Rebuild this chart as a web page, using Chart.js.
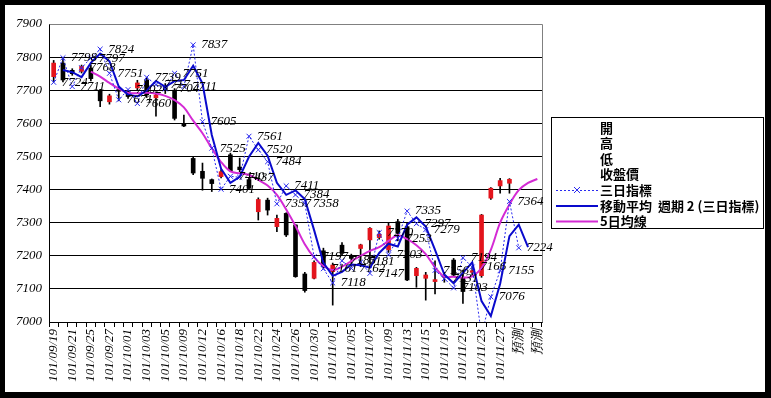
<!DOCTYPE html>
<html><head><meta charset="utf-8">
<script src="https://cdn.jsdelivr.net/npm/chart.js@4.4.0/dist/chart.umd.min.js"></script>
<style>html,body{margin:0;padding:0;background:#000;overflow:hidden}</style>
</head><body>
<canvas id="c" width="771" height="398"></canvas>
<script>
const categories = ['101/09/19','101/09/20','101/09/21','101/09/24','101/09/25','101/09/26','101/09/27','101/09/28',
 '101/10/01','101/10/02','101/10/03','101/10/04','101/10/05','101/10/08','101/10/09','101/10/11','101/10/12',
 '101/10/15','101/10/16','101/10/17','101/10/18','101/10/19','101/10/22','101/10/23','101/10/24','101/10/25',
 '101/10/26','101/10/29','101/10/30','101/10/31','101/11/01','101/11/02','101/11/05','101/11/06','101/11/07',
 '101/11/08','101/11/09','101/11/12','101/11/13','101/11/14','101/11/15','101/11/16','101/11/19','101/11/20',
 '101/11/21','101/11/22','101/11/23','101/11/26','101/11/27','101/11/28','預測','預測','預測'];

const opens  = [7741,7782,7760,7757,7767,7699,7665,7702,7696,7707,7731,7677,7712,7700,7598,7494,7455,7430,7439,7505,
 7468,7430,7333,7368,7288,7328,7293,7145,7132,7215,7152,7232,7200,7222,7248,7255,7218,7303,7288,7140,
 7132,7122,7135,7187,7132,7150,7140,7374,7411,7419,null,null,null];
const highs  = [7790,7796,7765,7776,7775,7703,7688,7712,7700,7730,7738,7695,7720,7705,7625,7500,7480,7432,7460,7510,
 7495,7435,7375,7374,7323,7330,7295,7150,7185,7223,7178,7240,7205,7235,7285,7275,7300,7310,7300,7165,
 7150,7185,7150,7192,7157,7165,7325,7406,7434,7433,null,null,null];
const lows   = [7725,7725,7745,7752,7728,7650,7658,7668,7675,7700,7678,7622,7690,7610,7590,7445,7398,7394,7435,7455,
 7454,7400,7308,7323,7273,7258,7135,7090,7130,7162,7051,7200,7168,7167,7178,7250,7210,7245,7125,7105,
 7066,7085,7120,7138,7056,7140,7135,7370,7389,7389,null,null,null];
const closes = [7782,7731,7750,7772,7735,7668,7683,7697,7681,7722,7686,7686,7700,7615,7592,7450,7434,7418,7454,7457,
 7460,7404,7370,7338,7313,7263,7137,7095,7180,7168,7172,7208,7192,7233,7283,7265,7290,7268,7127,7162,
 7142,7128,7140,7142,7092,7155,7323,7404,7427,7431,null,null,null];

const threeDay = [7724,7798,7711,7768,7797,7824,7751,7671,7702,7660,7739,7717,7704,7751,7711,7837,7605,7525,7401,7440,
 7437,7561,7520,7484,7357,7411,7384,7358,7197,7161,7118,7185,7162,7181,7147,7270,7203,7253,7335,7297,
 7279,7156,7131,7103,7194,7166,6960,7076,7155,7364,7224,null,null];

const ma2 = [null,7761,7754.5,7739.5,7782.5,7810.5,7787.5,7711,7686.5,7681,7699.5,7728,7710.5,7727.5,7731,7774,7721,7565,7463,7420.5,
 7438.5,7499,7540.5,7502,7420.5,7384,7397.5,7371,7277.5,7179,7139.5,7151.5,7173.5,7171.5,7164,7208.5,7236.5,7228,7294,7316,
 7288,7217.5,7143.5,7117,7148.5,7180,7063,7018,7115.5,7259.5,7294,7226,null];

const ma5 = [null,null,null,null,7756,7741,7722,7705,7692,7691,7692,7690,7683,7670,7648,7608,7570,7525,7483,7455,
 7449,7444,7429,7412,7384,7340,7290,7235,7195,7169,7157,7167,7184,7200,7215,7226,7245,7262,7250,7232,
 7205,7165,7137,7137,7134,7138,7163,7218,7300,7355,7398,7420,7432];

const yTicks = [7000,7100,7200,7300,7400,7500,7600,7700,7800,7900];
const seriesNames = ['開','高','低','收盤價','三日指標','移動平均  週期 2 (三日指標)','5日均線'];

const RED = '#E3141C', BLUE_DOT = '#2A2AF0', BLUE = '#0A0ACC', MAGENTA = '#D42AD4';

const bgPlugin = {
  id:'bg',
  beforeDraw(chart){
    const ctx = chart.ctx;
    ctx.save();
    ctx.fillStyle = '#000'; ctx.fillRect(0,0,chart.width,chart.height);
    ctx.fillStyle = '#fff'; ctx.fillRect(5,5,760,387);
    ctx.restore();
  },
  beforeDatasetsDraw(chart){
    const {ctx, chartArea:a} = chart;
    ctx.save();
    ctx.strokeStyle = '#808080'; ctx.lineWidth = 1;
    ctx.beginPath();
    ctx.moveTo(Math.round(a.left)+0.5, Math.round(a.top)+0.5);
    ctx.lineTo(Math.round(a.right)+0.5, Math.round(a.top)+0.5);
    ctx.lineTo(Math.round(a.right)+0.5, Math.round(a.bottom)+0.5);
    ctx.stroke();
    ctx.restore();
  }
};

const labelPlugin = {
  id:'ptLabels',
  afterDatasetsDraw(chart){
    const meta = chart.getDatasetMeta(2);
    const {ctx, chartArea} = chart;
    ctx.save();
    ctx.font = 'italic 13px "Liberation Serif"';
    ctx.fillStyle = '#000'; ctx.textBaseline = 'middle'; ctx.textAlign = 'left';
    meta.data.forEach((pt,i)=>{
      const v = threeDay[i];
      if (v == null) return;
      if (pt.y < chartArea.top - 1 || pt.y > chartArea.bottom + 1) return;
      ctx.fillText(String(v), pt.x + 8, pt.y);
    });
    ctx.restore();
  }
};

const legendPlugin = {
  id:'customLegend',
  afterDraw(chart){
    const ctx = chart.ctx;
    ctx.save();
    ctx.strokeStyle = '#000'; ctx.lineWidth = 1;
    ctx.strokeRect(551.5, 117.5, 212, 111);
    const rows = [128, 143.5, 159, 174.5, 190, 206, 221.5];
    ctx.font = 'bold 13px "Noto Sans CJK TC"';
    ctx.fillStyle = '#000'; ctx.textBaseline = 'middle'; ctx.textAlign = 'left';
    seriesNames.forEach((t,i)=> ctx.fillText(t, 600, rows[i]));
    let y = rows[4];
    ctx.strokeStyle = BLUE_DOT; ctx.lineWidth = 1; ctx.setLineDash([2,2]);
    ctx.beginPath(); ctx.moveTo(556, y+0.5); ctx.lineTo(598, y+0.5); ctx.stroke();
    ctx.setLineDash([]);
    ctx.beginPath(); ctx.moveTo(574, y-3); ctx.lineTo(580, y+3); ctx.moveTo(580, y-3); ctx.lineTo(574, y+3); ctx.stroke();
    y = rows[5];
    ctx.strokeStyle = BLUE; ctx.lineWidth = 2;
    ctx.beginPath(); ctx.moveTo(556, y); ctx.lineTo(598, y); ctx.stroke();
    y = rows[6];
    ctx.strokeStyle = MAGENTA; ctx.lineWidth = 2;
    ctx.beginPath(); ctx.moveTo(556, y); ctx.lineTo(598, y); ctx.stroke();
    ctx.restore();
  }
};

const serif = { family:'"Liberation Serif"', size:13, style:'italic' };

new Chart(document.getElementById('c'), {
  type:'bar',
  data:{
    labels: categories,
    datasets:[
      { type:'bar', label:'高低', data: lows.map((l,i)=> l==null ? null : [l, highs[i]]),
        backgroundColor:'#000', barThickness:1, grouped:false, order:10 },
      { type:'bar', label:'開收', data: opens.map((o,i)=> o==null ? null : [o, closes[i]]),
        backgroundColor: opens.map((o,i)=> (o!=null && closes[i] > o) ? RED : '#000'),
        barThickness:4, minBarLength:1, grouped:false, order:9 },
      { type:'line', label:seriesNames[4], data: threeDay, borderColor:BLUE_DOT, borderWidth:1, borderDash:[2,2],
        pointStyle:'crossRot', pointRadius:3.5, pointBorderColor:BLUE_DOT, pointBorderWidth:1,
        pointBackgroundColor:BLUE_DOT, fill:false, tension:0, order:2 },
      { type:'line', label:seriesNames[5], data: ma2, borderColor:BLUE, borderWidth:2, pointRadius:0,
        fill:false, tension:0, order:1 },
      { type:'line', label:seriesNames[6], data: ma5, borderColor:MAGENTA, borderWidth:2, pointRadius:0,
        fill:false, tension:0.35, order:3 }
    ]
  },
  options:{
    responsive:false, animation:false, devicePixelRatio:1, events:[],
    layout:{ padding:{ left:5, top:24, right:229, bottom:6 } },
    plugins:{ legend:{display:false}, tooltip:{enabled:false} },
    scales:{
      x:{
        type:'category', offset:true,
        grid:{ drawOnChartArea:false, drawTicks:true, tickLength:5, color:'#000', offset:true },
        border:{ color:'#000', width:1 },
        ticks:{ autoSkip:false, maxRotation:90, minRotation:90, padding:2, color:'#000', font:serif,
          callback:(v,i)=> i%2===0 ? categories[i] : '' },
        afterFit:(s)=>{ s.height = 70; }
      },
      y:{
        min:7000, max:7900,
        grid:{ color:'#000', drawTicks:false, lineWidth:1 },
        border:{ color:'#000', width:1 },
        ticks:{ color:'#000', font:serif, padding:7, callback:(v)=> String(v) },
        afterBuildTicks:(s)=>{ s.ticks = yTicks.map(v=>({value:v})); },
        afterFit:(s)=>{ s.width = 44; }
      }
    }
  },
  plugins:[bgPlugin, labelPlugin, legendPlugin]
});
</script>
</body></html>
